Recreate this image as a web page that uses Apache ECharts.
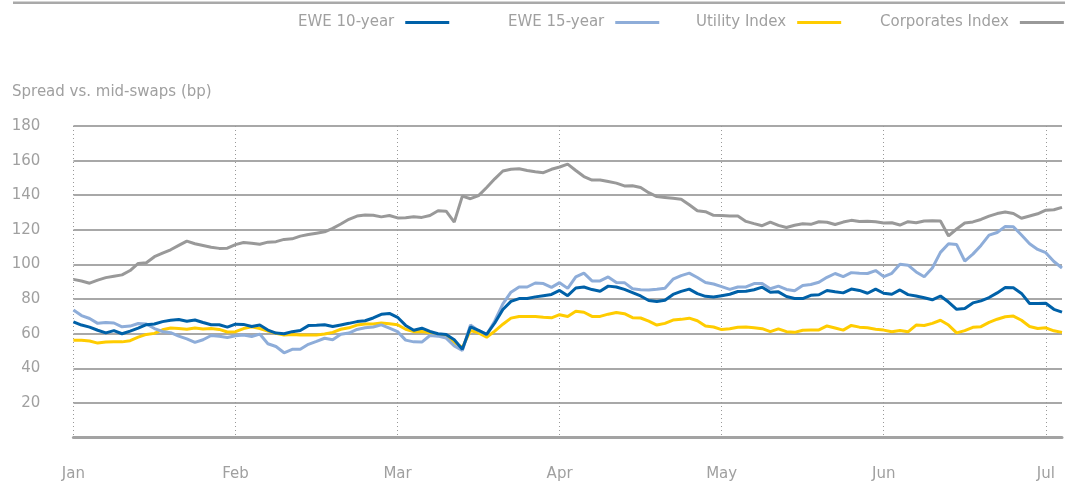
<!DOCTYPE html>
<html>
<head>
<meta charset="utf-8">
<script src="https://cdn.jsdelivr.net/npm/echarts@6/dist/echarts.min.js"></script>
<style>
  html, body { margin: 0; padding: 0; background: #fff; }
  #graph-container { width: 1065px; height: 483px; }
</style>
</head>
<body>
<div id="graph-container"></div>
<script>
"use strict";

// month labels, one every 20 trading days
var months = ["Jan", "Feb", "Mar", "Apr", "May", "Jun", "Jul"];
var daysPerMonth = 20;

// spreads vs. mid-swaps in bp
var ewe10 = [
  66.9, 65, 63.8, 62, 60.5, 61.8, 60, 61.5, 63.2, 65.2, 65.6, 67, 67.8, 68.2, 67.2, 67.9, 66.5, 65.2, 65.2, 63.8, 65.5,
  65.4, 64.2, 65, 62.1, 60.4, 60, 61.2, 61.9, 64.7, 64.9, 65.2, 64.2, 65.1, 66, 67, 67.5, 69.1, 71.2, 71.7, 69.5,
  64.8, 62, 63.2, 61.3, 60, 59.6, 56.5, 51, 63.9, 62, 59.6, 66.2, 74, 78.7, 80.3, 80.3, 81.3, 82, 82.7, 85,
  82, 86.4, 87, 85.5, 84.5, 87.5, 87, 85.6, 83.8, 81.8, 79.2, 78.6, 79.3, 82.7, 84.5, 85.8, 83.2, 81.6, 81.2, 82,
  82.8, 84.4, 84.5, 85.4, 86.9, 84, 84.2, 81.5, 80.4, 80.3, 82.2, 82.5, 85, 84.2, 83.6, 85.8, 85, 83.4, 85.8, 83.4,
  82.8, 85.3, 82.6, 81.8, 80.8, 79.6, 81.8, 78.3, 74.1, 74.6, 77.8, 79, 80.9, 83.6, 86.7, 86.5, 83.3, 77.5, 77.4, 77.6, 74.1, 72.5
];
var ewe15 = [
  73.7, 70.5, 68.8, 66, 66.5, 66.2, 64, 64.4, 65.9, 65.6, 63, 61.3, 60.6, 58.6, 57, 55, 56.5, 59, 58.5, 57.8, 58.8,
  59.3, 58.4, 59.8, 54.2, 52.6, 49, 51, 51, 53.9, 55.6, 57.4, 56.5, 59.7, 60.4, 62.5, 63.4, 63.9, 65.1, 63.2, 61.2,
  56.3, 55.3, 55.2, 59, 58.6, 57.5, 53, 50.3, 65, 61.8, 59.6, 67.4, 77.2, 84, 87, 87, 89.3, 89, 86.8, 89.5,
  86.2, 92.8, 95, 90.5, 90.5, 92.8, 89.6, 89.5, 86, 85.4, 85.2, 85.7, 86.3, 91.5, 93.6, 95, 92.5, 89.6, 88.7, 87.2,
  85.6, 87, 87, 89, 89, 86, 87.5, 85.6, 84.8, 87.8, 88.4, 89.7, 92.6, 94.8, 93, 95.3, 95, 94.8, 96.5, 93,
  94.9, 100.2, 99.6, 95.7, 92.9, 98, 107, 112, 111.5, 102, 106, 111, 117, 118.5, 122, 121.8, 117, 112, 108.7, 106.8, 101.7, 98
];
var utility = [
  56.3, 56.3, 55.8, 54.6, 55.2, 55.3, 55.3, 56, 58, 59.6, 60.2, 62.3, 63.3, 63, 62.6, 63.3, 62.7, 63, 62.5, 61, 61.2,
  63, 64, 63, 61.5, 60.3, 59.3, 59.5, 59.2, 59.2, 59.3, 59.8, 60.8, 62.6, 63.4, 65, 65.6, 65.6, 66.2, 65.8, 65.2,
  62.6, 61.2, 61.3, 60.6, 59, 58.2, 55, 52, 61.9, 60.5, 58, 61.5, 65.5, 69, 70, 70, 69.9, 69.5, 69.2, 71,
  70, 73, 72.4, 70, 70, 71.3, 72.3, 71.6, 69.3, 69.1, 67.3, 65, 66, 67.9, 68.3, 69, 67.5, 64.5, 63.9, 62.4,
  62.9, 63.8, 63.9, 63.4, 62.9, 61.2, 62.8, 61.2, 60.8, 62, 62.1, 62.2, 64.5, 63.3, 62.1, 64.8, 63.8, 63.4, 62.6, 62.1,
  61.1, 61.9, 61.1, 65, 64.8, 66, 67.8, 65, 60.5, 61.8, 63.7, 64.1, 66.6, 68.4, 69.8, 70.2, 67.8, 64.2, 63, 63.4, 61.7, 60.8
];
var corporates = [
  91.4, 90.5, 89.2, 91, 92.4, 93.2, 94, 96.5, 100.6, 101, 104.5, 106.5, 108.5, 111, 113.5, 112, 111, 110, 109.3, 109.4, 111.5,
  112.7, 112.3, 111.7, 112.9, 113.2, 114.5, 114.8, 116.4, 117.3, 118.1, 118.9, 120.9, 123.4, 126.1, 128, 128.6, 128.4, 127.5, 128.3, 126.9,
  127, 127.6, 127.2, 128.3, 131, 130.8, 124.5, 139.5, 138, 139.8, 144.5, 149.5, 154, 155, 155.3, 154.3, 153.6, 153, 155, 156.3,
  158, 154.3, 150.8, 148.8, 148.8, 147.9, 147, 145.4, 145.5, 144.5, 141.5, 139.2, 138.7, 138.2, 137.7, 134.5, 131, 130.5, 128.4, 128.3,
  128, 128, 124.9, 123.6, 122.4, 124.5, 122.6, 121.4, 122.7, 123.5, 123.2, 124.7, 124.4, 123.1, 124.5, 125.5, 124.8, 125, 124.7, 124,
  124.1, 122.8, 124.7, 124.1, 125.1, 125.3, 125.1, 116.5, 120.5, 124, 124.6, 126, 127.9, 129.4, 130.3, 129.5, 126.7, 128, 129.3, 131.4, 131.6, 133
];

var textGrey = "#a0a0a0";
var fontFam = "'DejaVu Sans', sans-serif";

function toPairs(arr) {
  return arr.map(function (v, i) { return [i, v]; });
}

function makeLegend(name, left) {
  return {
    data: [name],
    left: left,
    top: 15,
    align: "right",
    icon: "rect",
    itemWidth: 44,
    itemHeight: 3,
    padding: 0,
    selectedMode: false,
    textStyle: { color: textGrey, fontSize: 15, fontFamily: fontFam, padding: [3, 6, 0, 0] }
  };
}

function makeLine(name, data, color, z) {
  return {
    name: name,
    type: "line",
    data: toPairs(data),
    symbol: "none",
    smooth: false,
    z: z,
    lineStyle: { color: color, width: 3 },
    itemStyle: { color: color }
  };
}

var chartDom = document.getElementById("graph-container");
var myChart = echarts.init(chartDom);

var option = {
  animation: false,
  title: {
    text: "Spread vs. mid-swaps (bp)",
    left: 12,
    top: 85,
    padding: 0,
    textStyle: { color: textGrey, fontSize: 15, fontWeight: "normal", fontFamily: fontFam }
  },
  legend: [
    makeLegend("EWE 10-year", 298),
    makeLegend("EWE 15-year", 508),
    makeLegend("Utility Index", 696),
    makeLegend("Corporates Index", 880)
  ],
  // thin rule along the top edge
  graphic: {
    elements: [
      {
        type: "rect",
        x: 13,
        y: 1.5,
        z: 100,
        silent: true,
        shape: { x: 0, y: 0, width: 1052, height: 2.5 },
        style: { fill: "#a9a9a9" }
      }
    ]
  },
  grid: { left: 73.4, right: 1.6, top: 126, bottom: 45.4 },
  xAxis: {
    type: "value",
    min: 0,
    max: ewe10.length - 1,
    interval: daysPerMonth,
    axisLine: { show: true, lineStyle: { color: "#a3a3a3", width: 3 } },
    axisTick: { show: false },
    axisLabel: {
      margin: 29,
      color: textGrey,
      fontSize: 15,
      fontFamily: fontFam,
      formatter: function (v) {
        return v % daysPerMonth === 0 ? months[v / daysPerMonth] : "";
      }
    },
    splitLine: {
      show: true,
      showMaxLine: false,
      lineStyle: { color: "#999999", type: [1, 3], width: 1 }
    }
  },
  yAxis: {
    type: "value",
    min: 0,
    max: 180,
    interval: 20,
    axisLine: { show: false },
    axisTick: { show: false },
    axisLabel: {
      margin: 33,
      color: textGrey,
      fontSize: 15,
      fontFamily: fontFam,
      formatter: function (v) { return v === 0 ? "" : v; }
    },
    splitLine: {
      show: true,
      showMinLine: false,
      lineStyle: { color: "#a8a8a8", width: 2 }
    }
  },
  series: [
    makeLine("Corporates Index", corporates, "#999999", 2),
    makeLine("Utility Index", utility, "#ffcc00", 3),
    makeLine("EWE 15-year", ewe15, "#8eadd9", 4),
    makeLine("EWE 10-year", ewe10, "#0061a8", 5)
  ]
};

option && myChart.setOption(option);
window.onresize = function () {
  myChart.resize();
};
</script>
</body>
</html>
